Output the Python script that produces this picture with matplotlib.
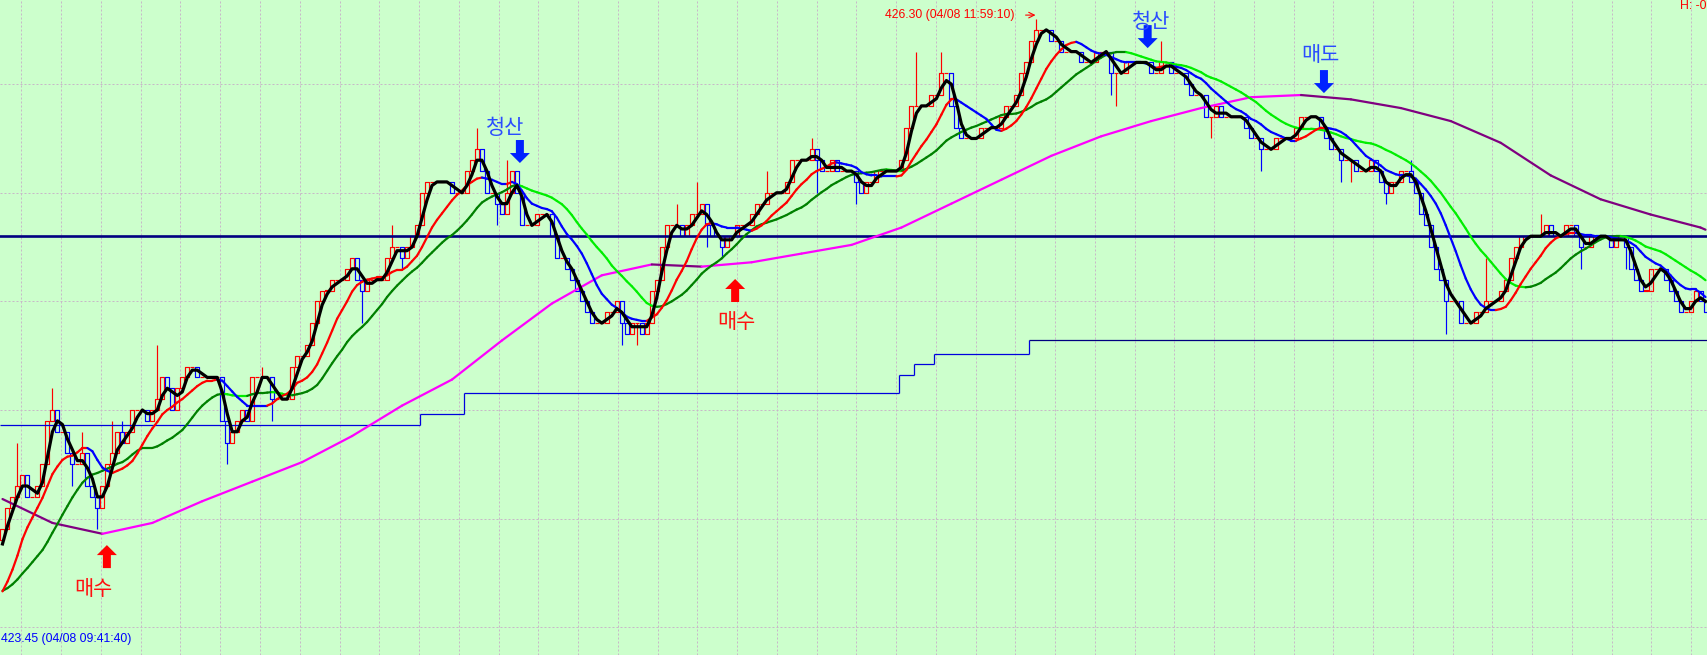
import numpy as np
import pandas as pd
import matplotlib
matplotlib.use("Agg")
import matplotlib.pyplot as plt
from matplotlib.collections import LineCollection, PatchCollection
from matplotlib.patches import Rectangle, Polygon

# 10 second bars of 04/08, closes of the visible window (left to right)
closes = [
    423.95, 424.05, 424.10, 424.15, 424.20, 424.10, 424.10, 424.15, 424.25, 424.45,
    424.50, 424.40, 424.40, 424.30, 424.25, 424.25, 424.30, 424.15, 424.10, 424.05,
    424.15, 424.25, 424.30, 424.40, 424.35, 424.40, 424.50, 424.50, 424.50, 424.45,
    424.50, 424.55, 424.65, 424.60, 424.50, 424.60, 424.65, 424.70, 424.70, 424.65,
    424.65, 424.65, 424.65, 424.65, 424.45, 424.35, 424.40, 424.45, 424.50, 424.45,
    424.65, 424.65, 424.65, 424.65, 424.55, 424.55, 424.55, 424.55, 424.70, 424.75,
    424.75, 424.80, 424.90, 425.00, 425.05, 425.05, 425.10, 425.10, 425.10, 425.15,
    425.20, 425.10, 425.05, 425.10, 425.10, 425.10, 425.10, 425.20, 425.25, 425.25,
    425.20, 425.25, 425.30, 425.35, 425.50, 425.55,
    425.55, 425.55, 425.55, 425.55, 425.50, 425.50, 425.50, 425.60, 425.65, 425.70,
    425.60, 425.50, 425.50, 425.45, 425.40, 425.50, 425.60, 425.50, 425.35, 425.35,
    425.35, 425.40, 425.40, 425.40, 425.30, 425.20, 425.20, 425.15, 425.10, 425.05,
    425.00, 424.95, 424.90, 424.90, 424.90, 424.95, 424.95, 425.00, 424.90, 424.85,
    424.90, 424.90, 424.85, 424.90, 425.05, 425.10, 425.25, 425.35, 425.35, 425.35,
    425.30, 425.35, 425.40, 425.40, 425.45, 425.35, 425.30, 425.30, 425.25, 425.30,
    425.30, 425.35, 425.35, 425.35, 425.40, 425.45, 425.45, 425.50, 425.50, 425.50,
    425.50, 425.55, 425.65, 425.65, 425.65, 425.65, 425.70, 425.65, 425.60, 425.60,
    425.65, 425.60, 425.60, 425.60, 425.60, 425.55,
    425.50, 425.55, 425.55, 425.60, 425.60, 425.60, 425.60, 425.60, 425.65, 425.80,
    425.90, 425.90, 425.90, 425.90, 425.95, 425.95, 426.05, 426.05, 425.90, 425.80,
    425.75, 425.75, 425.75, 425.75, 425.80, 425.80, 425.80, 425.80, 425.85, 425.90,
    425.90, 425.95, 426.05, 426.10, 426.20, 426.25, 426.25, 426.25, 426.20, 426.20,
    426.15, 426.15, 426.15, 426.15, 426.10, 426.10, 426.10, 426.15, 426.15, 426.15,
    426.05, 426.05, 426.05, 426.10, 426.10, 426.10, 426.10, 426.10, 426.05, 426.05,
    426.10, 426.10, 426.05, 426.05, 426.05, 426.00, 425.95, 425.95, 425.95, 425.85,
    425.85, 425.90, 425.85, 425.85, 425.85, 425.85, 425.85, 425.80, 425.75, 425.75,
    425.70, 425.70, 425.70, 425.75, 425.75, 425.75,
    425.75, 425.80, 425.85, 425.85, 425.85, 425.85, 425.80, 425.75, 425.70, 425.70,
    425.65, 425.65, 425.65, 425.60, 425.60, 425.60, 425.65, 425.60, 425.55, 425.50,
    425.55, 425.55, 425.60, 425.60, 425.55, 425.50, 425.40, 425.35, 425.25, 425.15,
    425.10, 425.00, 425.00, 425.00, 424.90, 424.90, 424.90, 424.95, 424.95, 425.00,
    425.00, 425.00, 425.05, 425.10, 425.20, 425.25, 425.30, 425.30, 425.30, 425.30,
    425.30, 425.35, 425.30, 425.30, 425.30, 425.35, 425.35, 425.30, 425.25, 425.25,
    425.30, 425.30, 425.30, 425.30, 425.25, 425.30, 425.30, 425.25, 425.15, 425.10,
    425.05, 425.05, 425.15, 425.15, 425.15, 425.10, 425.05, 425.00, 424.95, 424.95,
    425.00, 425.05, 425.00, 424.95,
]
# bars just left of the window, they only seed the averages
pre_closes = [424.05, 423.80, 423.75, 423.70, 423.65, 423.60, 423.55, 423.60, 423.70, 423.70,
              423.65, 423.60, 423.55, 423.50, 423.45, 423.55, 423.65, 423.70, 423.80, 423.90]

# bars with a visible wick (bar number: price)
wick_high = {3: 424.35, 10: 424.60, 16: 424.40, 22: 424.45, 24: 424.45, 31: 424.80,
             52: 424.70, 78: 425.35, 95: 425.80, 101: 425.65, 135: 425.45, 139: 425.55,
             153: 425.60, 162: 425.75, 183: 426.15, 188: 426.15, 207: 426.30, 232: 426.20,
             282: 425.65, 297: 425.20, 308: 425.40}
wick_low = {14: 424.15, 19: 423.95, 45: 424.25, 54: 424.45, 72: 424.90, 80: 425.15,
            99: 425.35, 124: 424.80, 127: 424.80, 141: 425.25, 144: 425.20, 163: 425.50,
            171: 425.45, 222: 425.95, 223: 425.90, 242: 425.75, 252: 425.60, 268: 425.55,
            270: 425.55, 277: 425.45, 289: 424.85, 316: 425.15, 325: 425.15}

# long average (magenta / purple), read every 10 bars
slow_idx = list(range(0, 341, 10)) + [341]
slow_ma = [424.09, 423.98, 423.93, 423.98, 424.08, 424.17, 424.26, 424.38, 424.52, 424.64,
           424.82, 424.99, 425.12, 425.17, 425.16, 425.18, 425.22, 425.26, 425.34, 425.45,
           425.56, 425.67, 425.76, 425.83, 425.89, 425.94, 425.95, 425.93, 425.89, 425.83,
           425.73, 425.58, 425.47, 425.40, 425.34, 425.33]

# trailing stop steps
stop_idx = [0, 84, 93, 180, 183, 187, 206]
stop_level = [424.43, 424.48, 424.58, 424.66, 424.71, 424.76, 424.82]

resist_level = 425.30
hi_label = "426.30 (04/08 11:59:10)"
lo_label = "423.45 (04/08 09:41:40)"

# label, text bar, text price, arrow bar, arrow tip price, arrow up?
signals = [
    ("매수", 18.1, 423.676, 20.9, 423.878, True),
    ("청산", 100.6, 425.798, 103.6, 425.637, False),
    ("매수", 146.9, 424.905, 146.7, 425.103, True),
    ("청산", 229.9, 426.286, 229.3, 426.166, False),
    ("매도", 263.8, 426.134, 264.6, 425.959, False),
]

W, H = 1708, 655
n = len(closes)
Y_TOP, Y_BOT = 426.3875, 423.372
PX_X = n / W
PX_Y = (Y_TOP - Y_BOT) / H

BG = "#ccffcc"
GRID = "#c8b8c8"
KR = ["Noto Sans CJK KR", "DejaVu Sans"]
NUM = ["Liberation Sans Narrow", "Liberation Sans", "DejaVu Sans"]

fig = plt.figure(figsize=(W / 100, H / 100), dpi=100, facecolor=BG)
ax = fig.add_axes([0, 0, 1, 1])
ax.set_facecolor(BG)
ax.set_xlim(-0.5, n - 0.5)
ax.set_ylim(Y_BOT, Y_TOP)
for s in ax.spines.values():
    s.set_visible(False)
ax.set_xticks([])
ax.set_yticks([])

# dashed grid
for gx in np.arange(3.8, n, 7.96):
    ax.axvline(gx, color=GRID, lw=0.72, ls=(0, (2, 2)), zorder=1)
for gy in np.arange(423.5, 426.01, 0.5):
    ax.axhline(gy, color=GRID, lw=0.72, ls=(0, (2, 2)), zorder=1)

# candles: hollow boxes, red up / blue down
allc = pre_closes + closes
rects, rcols, wx, wy0, wy1, wcols = [], [], [], [], [], []
for i in range(n):
    o = allc[len(pre_closes) + i - 1]
    c = closes[i]
    col = "#ff0000" if c >= o else "#0000ff"
    lo, hi = min(o, c), max(o, c)
    rects.append(Rectangle((i - 0.4, lo), 0.8, max(hi - lo, 1e-4)))
    rcols.append(col)
    h = max(hi, wick_high.get(i, hi))
    l = min(lo, wick_low.get(i, lo))
    if h > hi:
        wx.append(i); wy0.append(hi); wy1.append(h); wcols.append(col)
    if l < lo:
        wx.append(i); wy0.append(l); wy1.append(lo); wcols.append(col)
ax.add_collection(PatchCollection(rects, facecolor="none", edgecolor=rcols,
                                  linewidths=0.85, zorder=3))
ax.vlines(wx, wy0, wy1, colors=wcols, lw=0.85, zorder=3)

# horizontal level and trailing stop
ax.axhline(resist_level, color="#000080", lw=1.9, zorder=4)
ends = stop_idx[1:] + [n]
for k in range(len(stop_idx)):
    col = "#000080" if k == len(stop_idx) - 1 else "#0000dd"
    ax.hlines(stop_level[k], stop_idx[k] - 0.5, ends[k] - 0.5, colors=col, lw=0.9, zorder=4)
    if k > 0:
        ax.vlines(stop_idx[k] - 0.5, stop_level[k - 1], stop_level[k], colors="#0000dd",
                  lw=0.9, zorder=4)


def slope_line(x, y, up_col, dn_col, lw, z):
    x = np.asarray(x, float)
    y = np.asarray(y, float)
    pts = np.column_stack([x, y])
    segs = np.stack([pts[:-1], pts[1:]], axis=1)
    cols, last = [], up_col
    for d in np.diff(y):
        if d > 1e-9:
            last = up_col
        elif d < -1e-9:
            last = dn_col
        cols.append(last)
    ax.add_collection(LineCollection(segs, colors=cols, linewidths=lw, zorder=z,
                                     capstyle="round", joinstyle="round"))


s = pd.Series(allc)
np_ = len(pre_closes)
ma3 = s.rolling(3).mean().values[np_:]
ma10 = s.rolling(10).mean().values[np_:]
ma20 = s.rolling(20).mean().values[np_:]
xs = np.arange(n)

slope_line(slow_idx, slow_ma, "#ff00ff", "#800080", 1.6, 5)
slope_line(xs, ma20, "#008000", "#00ee00", 1.6, 6)
slope_line(xs, ma10, "#ff0000", "#0000ff", 1.6, 7)
ax.plot(xs, ma3, color="black", lw=2.3, zorder=8, solid_joinstyle="round")


def block_arrow(i, tip, up, color):
    sw, hw = 4 * PX_X, 10 * PX_X
    hl, L = 10 * PX_Y, 23 * PX_Y
    d = 1 if up else -1
    pts = [(i, tip), (i + hw, tip - d * hl), (i + sw, tip - d * hl), (i + sw, tip - d * L),
           (i - sw, tip - d * L), (i - sw, tip - d * hl), (i - hw, tip - d * hl)]
    ax.add_patch(Polygon(pts, closed=True, facecolor=color, edgecolor="none", zorder=9))


for label, tx, ty, axx, tip, up in signals:
    tcol = "#ff1010" if up else "#2a4cff"
    acol = "#ff0000" if up else "#0022ff"
    block_arrow(axx, tip, up, acol)
    ax.text(tx, ty, label, color=tcol, fontsize=15, family=KR, ha="center", va="center",
            zorder=10)

ax.text(176.7, 426.318, hi_label, color="#ff0000", fontsize=8.8, family=NUM,
        ha="left", va="center", zorder=10)
ax.annotate("", xy=(207.4, 426.318), xytext=(204.3, 426.318),
            arrowprops=dict(arrowstyle="->", color="#ff0000", lw=0.8), zorder=10)
ax.text(-0.3, 423.445, lo_label, color="#0000ff", fontsize=8.8, family=NUM,
        ha="left", va="center", zorder=10)
ax.text(n - 0.9, Y_TOP, "H: -0", color="#ff0000", fontsize=8.8, family=NUM,
        ha="right", va="top", zorder=10)

fig.savefig("out.png", dpi=100, facecolor=BG)
